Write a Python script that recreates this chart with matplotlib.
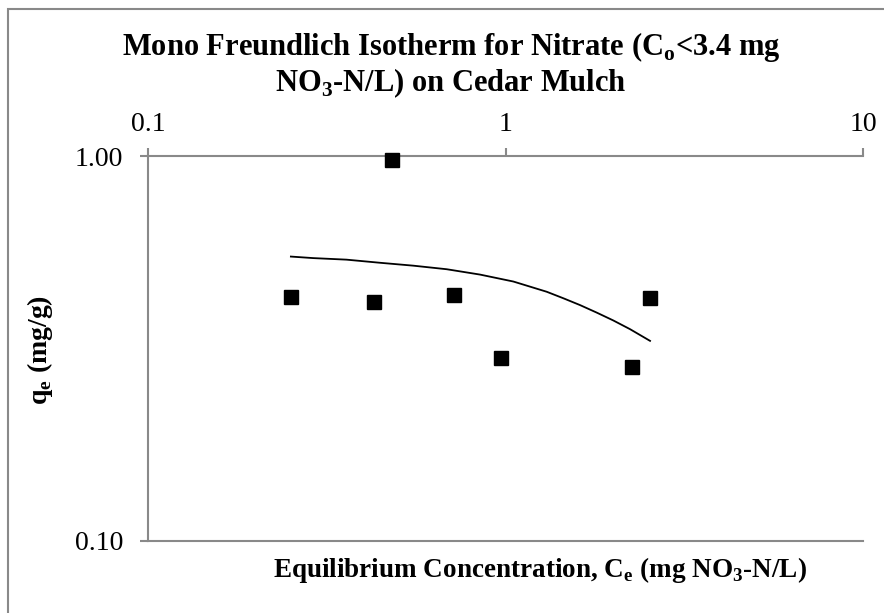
import matplotlib
matplotlib.use("Agg")
import matplotlib.pyplot as plt
from matplotlib.patches import Rectangle

# measured data (Ce in mg NO3-N/L, qe in mg/g)
ce_obs = [0.251, 0.430, 0.481, 0.719, 0.971, 2.26, 2.54]
qe_obs = [0.431, 0.418, 0.976, 0.435, 0.299, 0.283, 0.428]

# fitted isotherm line
ce_fit = [0.251, 0.290, 0.359, 0.446, 0.552, 0.685, 0.849, 1.052,
          1.304, 1.452, 1.616, 1.799, 2.002, 2.230, 2.537]
qe_fit = [0.548, 0.543, 0.538, 0.528, 0.519, 0.508, 0.492, 0.472,
          0.444, 0.427, 0.410, 0.392, 0.374, 0.355, 0.331]

x_ticks = [0.1, 1, 10]
x_labels = ["0.1", "1", "10"]
y_ticks = [0.1, 1.0]
y_labels = ["0.10", "1.00"]

plt.rcParams['font.family'] = ['Liberation Serif', 'DejaVu Serif']
grey = '#898989'

fig = plt.figure(figsize=(8.84, 6.13), dpi=100)
ax = fig.add_axes([148/884, 1-541/613, (863-148)/884, (541-156)/613])

ax.set_xscale('log')
ax.set_yscale('log')
ax.set_xlim(0.1, 10)
ax.set_ylim(0.1, 1.0)

ax.plot(ce_fit, qe_fit, color='black', lw=1.3, zorder=3)
ax.plot(ce_obs, qe_obs, ls='none', marker='s', ms=10.5, color='black',
        clip_on=False, zorder=4)

ax.xaxis.set_ticks_position('top')
ax.set_xticks(x_ticks)
ax.set_xticklabels(x_labels)
ax.set_yticks(y_ticks)
ax.set_yticklabels(y_labels)
ax.minorticks_off()
ax.tick_params(axis='x', which='major', direction='out', length=6, width=1.5,
               color=grey, labelsize=20, pad=8)
ax.tick_params(axis='y', which='major', direction='out', length=6, width=1.5,
               color=grey, labelsize=20, pad=12)

ax.spines['right'].set_visible(False)
for s in ['top', 'left', 'bottom']:
    ax.spines[s].set_color(grey)
    ax.spines[s].set_linewidth(1.5)

fig.text(451/884, 1-65/613,
         "Mono Freundlich Isotherm for Nitrate (C$_\\mathregular{o}$<3.4 mg\n"
         "NO$_\\mathregular{3}$-N/L) on Cedar Mulch",
         ha='center', va='center', fontsize=22, fontweight='bold',
         linespacing=1.1)
fig.text(540/884, 1-570/613,
         "Equilibrium Concentration, C$_\\mathregular{e}$ (mg NO$_\\mathregular{3}$-N/L)",
         ha='center', va='center', fontsize=19.5, fontweight='bold')
fig.text(40/884, 1-350/613, "q$_\\mathregular{e}$ (mg/g)",
         ha='center', va='center', fontsize=20, fontweight='bold', rotation=90)

# chart area border
fig.add_artist(Rectangle((8/884, -0.5), 1.5, 1.5 - 9/613, transform=fig.transFigure,
                         fill=False, edgecolor=grey, lw=1.5))

fig.savefig("out.png", dpi=100)
